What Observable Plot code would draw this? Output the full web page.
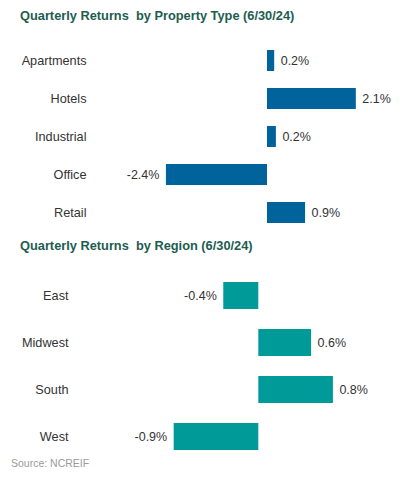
<!DOCTYPE html>
<html>
<head>
<meta charset="utf-8">
<script src="https://cdn.jsdelivr.net/npm/d3@7"></script>
<script src="https://cdn.jsdelivr.net/npm/@observablehq/plot@0.6"></script>
<style>
  html, body { margin: 0; padding: 0; background: #fff; }
  #wrap { position: relative; width: 400px; height: 478px; overflow: hidden; font-family: "Liberation Sans", Arial, sans-serif; }
  .title { position: absolute; left: 20px; font-size: 12.8px; font-weight: bold; color: #1e5c50; line-height: 14px; white-space: pre; }
  .source { position: absolute; left: 11px; font-size: 10.5px; color: #9a9a9a; line-height: 12px; }
  .chart { position: absolute; left: 0; }
  .chart svg { display: block; }
</style>
</head>
<body>
<div id="wrap">
  <div class="title" id="t1" style="top:9px">Quarterly Returns  by Property Type (6/30/24)</div>
  <div class="chart" id="c1" style="top:30px"></div>
  <div class="title" id="t2" style="top:239px">Quarterly Returns  by Region (6/30/24)</div>
  <div class="chart" id="c2" style="top:258px"></div>
  <div class="source" style="top:457px">Source: NCREIF</div>
</div>
<script>
// Data
const propertyTypes = ["Apartments", "Hotels", "Industrial", "Office", "Retail"];
const propertyReturns = [0.17, 2.1, 0.21, -2.39, 0.9];
const regions = ["East", "Midwest", "South", "West"];
const regionReturns = [-0.385, 0.58, 0.82, -0.93];

const fmt = v => v.toFixed(1) + "%";

function barChart({cats, vals, color, height, marginTop, marginBottom, marginLeft, xDomain, padding}) {
  const data = cats.map((c, i) => ({cat: c, val: vals[i]}));
  return Plot.plot({
    width: 400,
    height,
    marginTop,
    marginBottom,
    marginLeft,
    marginRight: 0,
    style: {fontFamily: '"Liberation Sans", Arial, sans-serif', fontSize: "12.7px", color: "#333", background: "#fff"},
    x: {domain: xDomain, axis: null},
    y: {domain: cats, paddingInner: padding, paddingOuter: 0.1, label: null},
    marks: [
      Plot.axisY({tickSize: 0, tickPadding: 4, label: null, fontSize: 12.7, color: "#333"}),
      Plot.barX(data, {x: "val", y: "cat", fill: color}),
      Plot.text(data.filter(d => d.val >= 0), {x: "val", y: "cat", text: d => fmt(d.val), dx: 6, textAnchor: "start", fill: "#333", fontSize: 12.5}),
      Plot.text(data.filter(d => d.val < 0), {x: "val", y: "cat", text: d => fmt(d.val), dx: -7, textAnchor: "end", fill: "#333", fontSize: 12.5})
    ]
  });
}

document.getElementById("c1").append(barChart({
  cats: propertyTypes, vals: propertyReturns, color: "#00639c",
  height: 200, marginTop: 16.2, marginBottom: 1.9, marginLeft: 90,
  xDomain: [-177 / 42.3, 133 / 42.3], padding: 0.437
}));

document.getElementById("c2").append(barChart({
  cats: regions, vals: regionReturns, color: "#009b99",
  height: 198, marginTop: 19, marginBottom: 0.1, marginLeft: 72,
  xDomain: [-186.3 / 91, 141.7 / 91], padding: 0.426
}));
</script>
</body>
</html>
